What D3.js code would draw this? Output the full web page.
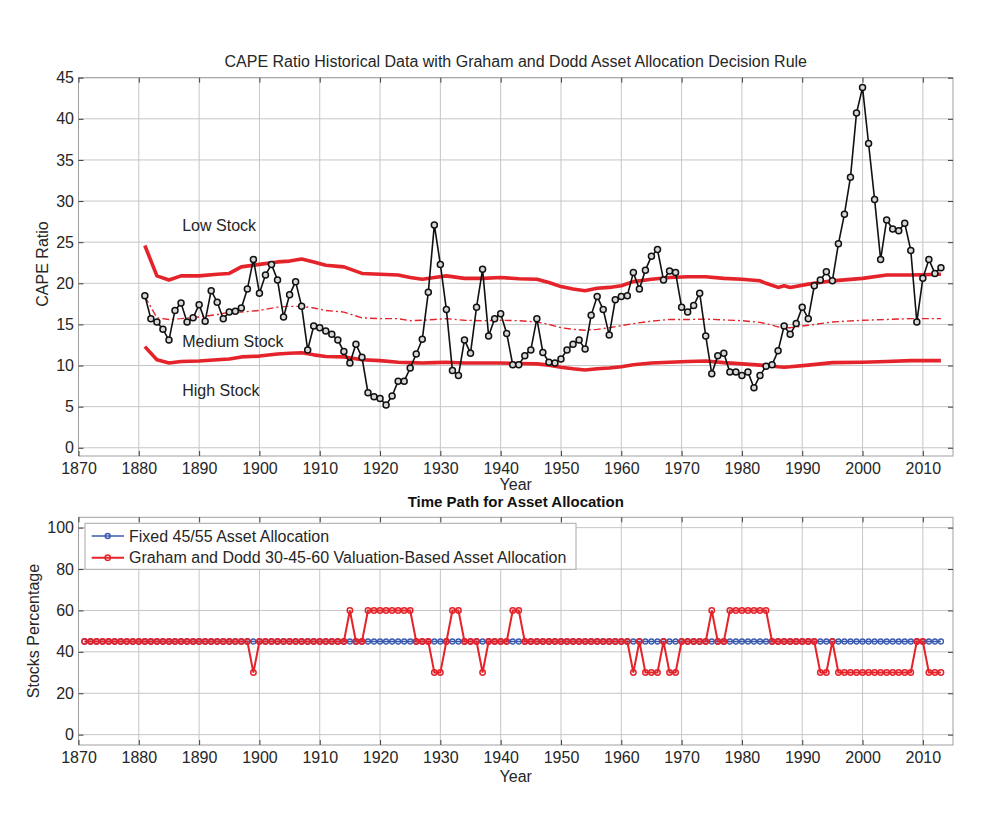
<!DOCTYPE html>
<html>
<head>
<meta charset="utf-8">
<script src="https://cdnjs.cloudflare.com/ajax/libs/d3/7.8.5/d3.min.js"></script>
<style>
  body { margin: 0; background: #fff; }
  svg { font-family: "Liberation Sans", Arial, sans-serif; }
</style>
</head>
<body>
<svg id="chart" width="1000" height="817"></svg>
<script>
// ---- data ----
const capeYears = d3.range(1881, 2014);
const capeValues = [
  18.5, 15.7, 15.3, 14.4, 13.1, 16.7, 17.6, 15.3, 15.8, 17.4,   // 1881-1890
  15.4, 19.1, 17.7, 15.7, 16.5, 16.6, 17.0, 19.3, 22.9, 18.8,   // 1891-1900
  21.0, 22.3, 20.4, 15.9, 18.6, 20.2, 17.2, 11.9, 14.8, 14.6,   // 1901-1910
  14.2, 13.8, 13.1, 11.7, 10.3, 12.6, 11.0, 6.7, 6.2, 6.0,      // 1911-1920
  5.2, 6.3, 8.1, 8.1, 9.7, 11.4, 13.2, 18.9, 27.1, 22.3,        // 1921-1930
  16.8, 9.4, 8.8, 13.1, 11.5, 17.1, 21.7, 13.6, 15.7, 16.3,     // 1931-1940
  13.9, 10.1, 10.1, 11.2, 11.9, 15.7, 11.6, 10.4, 10.3, 10.8,   // 1941-1950
  11.9, 12.6, 13.1, 12.0, 16.1, 18.4, 16.8, 13.7, 18.0, 18.4,   // 1951-1960
  18.5, 21.3, 19.3, 21.6, 23.3, 24.1, 20.4, 21.5, 21.3, 17.1,   // 1961-1970
  16.5, 17.3, 18.8, 13.6, 9.0, 11.2, 11.5, 9.2, 9.2, 8.8,       // 1971-1980
  9.2, 7.3, 8.8, 9.9, 10.1, 11.8, 14.8, 13.8, 15.1, 17.1,       // 1981-1990
  15.7, 19.7, 20.4, 21.4, 20.3, 24.8, 28.4, 32.9, 40.7, 43.8,   // 1991-2000
  37.0, 30.2, 22.9, 27.7, 26.6, 26.4, 27.3, 24.0, 15.3, 20.6,   // 2001-2010
  22.9, 21.2, 21.9                                              // 2011-2013
];

const bandYears = [1881, 1883, 1885, 1887, 1890, 1893, 1895, 1897, 1900, 1903,
  1905, 1907, 1909, 1911, 1914, 1917, 1920, 1923, 1925, 1927,
  1929, 1931, 1934, 1937, 1940, 1943, 1946, 1948, 1950, 1952,
  1954, 1956, 1958, 1960, 1962, 1965, 1968, 1971, 1974, 1977,
  1980, 1983, 1984, 1986, 1987, 1988, 1991, 1995, 2000, 2004,
  2008, 2013];
const upperBand = [24.6, 20.9, 20.4, 20.9, 20.9, 21.1, 21.2, 22.0, 22.3, 22.6,
  22.7, 22.95, 22.6, 22.2, 22.0, 21.2, 21.1, 21.0, 20.7, 20.5,
  20.7, 20.9, 20.6, 20.6, 20.7, 20.55, 20.5, 20.1, 19.6, 19.3,
  19.1, 19.4, 19.5, 19.7, 20.2, 20.5, 20.7, 20.8, 20.8, 20.6,
  20.5, 20.3, 20.0, 19.5, 19.7, 19.5, 19.9, 20.3, 20.6, 21.0,
  21.0, 21.1];
const midBand = [18.4, 15.8, 15.6, 15.7, 15.9, 16.2, 16.5, 16.5, 16.7, 17.1,
  17.2, 17.2, 17.0, 16.7, 16.5, 15.8, 15.7, 15.7, 15.45, 15.5,
  15.6, 15.7, 15.5, 15.45, 15.5, 15.45, 15.3, 15.0, 14.6, 14.4,
  14.3, 14.4, 14.6, 14.85, 15.1, 15.4, 15.6, 15.6, 15.65, 15.55,
  15.45, 15.25, 15.1, 14.7, 14.6, 14.6, 14.9, 15.3, 15.5, 15.6,
  15.7, 15.7];
const lowerBand = [12.3, 10.7, 10.3, 10.5, 10.55, 10.7, 10.8, 11.05, 11.15, 11.4,
  11.5, 11.55, 11.3, 11.1, 11.05, 10.7, 10.6, 10.4, 10.35, 10.3,
  10.35, 10.4, 10.3, 10.3, 10.3, 10.25, 10.2, 10.05, 9.8, 9.6,
  9.45, 9.6, 9.7, 9.85, 10.1, 10.3, 10.4, 10.5, 10.55, 10.35,
  10.2, 10.05, 10.0, 9.85, 9.8, 9.85, 10.05, 10.35, 10.4, 10.5,
  10.6, 10.6];

const allocYears = d3.range(1871, 2014);
const fixedAlloc = [
  45, 45, 45, 45, 45, 45, 45, 45, 45, 45,   // 1871-1880
  45, 45, 45, 45, 45, 45, 45, 45, 45, 45,
  45, 45, 45, 45, 45, 45, 45, 45, 45, 45,
  45, 45, 45, 45, 45, 45, 45, 45, 45, 45,
  45, 45, 45, 45, 45, 45, 45, 45, 45, 45,
  45, 45, 45, 45, 45, 45, 45, 45, 45, 45,
  45, 45, 45, 45, 45, 45, 45, 45, 45, 45,
  45, 45, 45, 45, 45, 45, 45, 45, 45, 45,
  45, 45, 45, 45, 45, 45, 45, 45, 45, 45,
  45, 45, 45, 45, 45, 45, 45, 45, 45, 45,
  45, 45, 45, 45, 45, 45, 45, 45, 45, 45,
  45, 45, 45, 45, 45, 45, 45, 45, 45, 45,
  45, 45, 45, 45, 45, 45, 45, 45, 45, 45,
  45, 45, 45, 45, 45, 45, 45, 45, 45, 45,
  45, 45, 45                                // 2011-2013
];
const gdAlloc = [
  45, 45, 45, 45, 45, 45, 45, 45, 45, 45,   // 1871-1880
  45, 45, 45, 45, 45, 45, 45, 45, 45, 45,   // 1881-1890
  45, 45, 45, 45, 45, 45, 45, 45, 30, 45,   // 1891-1900
  45, 45, 45, 45, 45, 45, 45, 45, 45, 45,   // 1901-1910
  45, 45, 45, 45, 60, 45, 45, 60, 60, 60,   // 1911-1920
  60, 60, 60, 60, 60, 45, 45, 45, 30, 30,   // 1921-1930
  45, 60, 60, 45, 45, 45, 30, 45, 45, 45,   // 1931-1940
  45, 60, 60, 45, 45, 45, 45, 45, 45, 45,   // 1941-1950
  45, 45, 45, 45, 45, 45, 45, 45, 45, 45,   // 1951-1960
  45, 30, 45, 30, 30, 30, 45, 30, 30, 45,   // 1961-1970
  45, 45, 45, 45, 60, 45, 45, 60, 60, 60,   // 1971-1980
  60, 60, 60, 60, 45, 45, 45, 45, 45, 45,   // 1981-1990
  45, 45, 30, 30, 45, 30, 30, 30, 30, 30,   // 1991-2000
  30, 30, 30, 30, 30, 30, 30, 30, 45, 45,   // 2001-2010
  30, 30, 30                                // 2011-2013
];

const xTicks = [1870, 1880, 1890, 1900, 1910, 1920, 1930, 1940, 1950, 1960, 1970, 1980, 1990, 2000, 2010];
const capeTicks = [0, 5, 10, 15, 20, 25, 30, 35, 40, 45];
const allocTicks = [0, 20, 40, 60, 80, 100];

// ---- layout ----
const svg = d3.select("#chart");
const left = 78.5, right = 953;
const red = "#e4232a", blue = "#3a5aae", grid = "#c6c6c6", textCol = "#262626";

const x = d3.scaleLinear().domain([1870, 2015]).range([left, right]);
const yTop = d3.scaleLinear().domain([-1, 45]).range([456, 77.7]);
const yBot = d3.scaleLinear().domain([-5, 105]).range([745, 517.3]);

function frame(yScale, yTicks, labelPad) {
  const [yb, yt] = yScale.range();
  const g = svg.append("g");

  g.append("g").selectAll("line").data(xTicks).join("line")
    .attr("x1", d => x(d)).attr("x2", d => x(d))
    .attr("y1", yb).attr("y2", yt)
    .attr("stroke", grid);
  g.append("g").selectAll("line").data(yTicks).join("line")
    .attr("x1", left).attr("x2", right)
    .attr("y1", d => yScale(d)).attr("y2", d => yScale(d))
    .attr("stroke", grid);

  g.append("rect")
    .attr("x", left).attr("y", yt)
    .attr("width", right - left).attr("height", yb - yt)
    .attr("fill", "none").attr("stroke", "#a0a0a0");

  const bottom = g.append("g").attr("transform", `translate(0,${yb})`)
    .call(d3.axisBottom(x).tickValues(xTicks).tickFormat(d3.format("d")).tickSize(-5).tickPadding(labelPad));
  const top = g.append("g").attr("transform", `translate(0,${yt})`)
    .call(d3.axisTop(x).tickValues(xTicks).tickFormat("").tickSize(-5));
  const leftAx = g.append("g").attr("transform", `translate(${left},0)`)
    .call(d3.axisLeft(yScale).tickValues(yTicks).tickSize(-5).tickPadding(4.5));
  const rightAx = g.append("g").attr("transform", `translate(${right},0)`)
    .call(d3.axisRight(yScale).tickValues(yTicks).tickFormat("").tickSize(-5));

  [bottom, top, leftAx, rightAx].forEach(a => {
    a.select(".domain").remove();
    a.selectAll(".tick line").attr("stroke", "#404040");
    a.selectAll("text")
      .attr("fill", textCol)
      .style("font-size", "16px")
      .style("font-family", "'Liberation Sans', Arial, sans-serif");
  });
}

// ======== top chart ========
frame(yTop, capeTicks, 7);

const bandLine = vals => d3.line()
  .x((d, i) => x(bandYears[i]))
  .y((d, i) => yTop(vals[i]))(vals);

svg.append("path").attr("d", bandLine(upperBand))
  .attr("fill", "none").attr("stroke", red).attr("stroke-width", 3.6)
  .attr("stroke-linejoin", "round");
svg.append("path").attr("d", bandLine(lowerBand))
  .attr("fill", "none").attr("stroke", red).attr("stroke-width", 3.6)
  .attr("stroke-linejoin", "round");
svg.append("path").attr("d", bandLine(midBand))
  .attr("fill", "none").attr("stroke", red).attr("stroke-width", 1.4)
  .attr("stroke-dasharray", "7,3,2,3");

const capeLine = d3.line()
  .x((d, i) => x(capeYears[i]))
  .y(d => yTop(d));

svg.append("path").attr("d", capeLine(capeValues))
  .attr("fill", "none").attr("stroke", "#111").attr("stroke-width", 1.6);

svg.append("g").selectAll("circle").data(capeValues).join("circle")
  .attr("cx", (d, i) => x(capeYears[i]))
  .attr("cy", d => yTop(d))
  .attr("r", 3)
  .attr("fill", "#d8d8d8")
  .attr("stroke", "#111")
  .attr("stroke-width", 1.5);

// zone labels
[["Low Stock", 26.3], ["Medium Stock", 12.2], ["High Stock", 6.25]].forEach(([t, v]) => {
  svg.append("text")
    .attr("x", x(1887.2)).attr("y", yTop(v))
    .attr("fill", textCol)
    .style("font-size", "16px")
    .text(t);
});

svg.append("text")
  .attr("x", (left + right) / 2).attr("y", 67)
  .attr("text-anchor", "middle").attr("fill", textCol)
  .style("font-size", "16px")
  .text("CAPE Ratio Historical Data with Graham and Dodd Asset Allocation Decision Rule");

svg.append("text")
  .attr("x", (left + right) / 2).attr("y", 489.5)
  .attr("text-anchor", "middle").attr("fill", textCol)
  .style("font-size", "16px")
  .text("Year");

svg.append("text")
  .attr("transform", "rotate(-90)")
  .attr("x", -264).attr("y", 48)
  .attr("text-anchor", "middle").attr("fill", textCol)
  .style("font-size", "16px")
  .text("CAPE Ratio");

// ======== bottom chart ========
frame(yBot, allocTicks, 7);

svg.append("text")
  .attr("x", (left + right) / 2).attr("y", 506.5)
  .attr("text-anchor", "middle").attr("fill", "#111")
  .style("font-size", "15px").style("font-weight", "bold")
  .text("Time Path for Asset Allocation");

svg.append("text")
  .attr("x", (left + right) / 2).attr("y", 782)
  .attr("text-anchor", "middle").attr("fill", textCol)
  .style("font-size", "16px")
  .text("Year");

svg.append("text")
  .attr("transform", "rotate(-90)")
  .attr("x", -631).attr("y", 38.5)
  .attr("text-anchor", "middle").attr("fill", textCol)
  .style("font-size", "16px")
  .text("Stocks Percentage");

const allocLine = d3.line()
  .x((d, i) => x(allocYears[i]))
  .y(d => yBot(d));

svg.append("path").attr("d", allocLine(fixedAlloc))
  .attr("fill", "none").attr("stroke", blue).attr("stroke-width", 1.6);
svg.append("g").selectAll("circle").data(fixedAlloc).join("circle")
  .attr("cx", (d, i) => x(allocYears[i])).attr("cy", d => yBot(d))
  .attr("r", 2.5).attr("fill", "none").attr("stroke", blue).attr("stroke-width", 1.3);

svg.append("path").attr("d", allocLine(gdAlloc))
  .attr("fill", "none").attr("stroke", red).attr("stroke-width", 2);
svg.append("g").selectAll("circle").data(gdAlloc).join("circle")
  .attr("cx", (d, i) => x(allocYears[i])).attr("cy", d => yBot(d))
  .attr("r", 2.7).attr("fill", "none").attr("stroke", red).attr("stroke-width", 1.5);

// legend
const legend = svg.append("g").attr("transform", "translate(85,523.3)");
legend.append("rect")
  .attr("width", 491).attr("height", 46)
  .attr("fill", "#fff").attr("stroke", "#a8a8a8");

[["Fixed 45/55 Asset Allocation", blue, 1.6, 2.5], ["Graham and Dodd 30-45-60 Valuation-Based Asset Allocation", red, 2, 2.7]]
  .forEach(([label, col, w, r], i) => {
    const cy = 12.7 + i * 21.7;
    legend.append("line")
      .attr("x1", 6.7).attr("x2", 39).attr("y1", cy).attr("y2", cy)
      .attr("stroke", col).attr("stroke-width", w);
    legend.append("circle")
      .attr("cx", 22.7).attr("cy", cy).attr("r", r)
      .attr("fill", "none").attr("stroke", col).attr("stroke-width", 1.4);
    legend.append("text")
      .attr("x", 44).attr("y", cy).attr("dy", "0.35em")
      .attr("fill", textCol)
      .style("font-size", "16px")
      .text(label);
  });
</script>
</body>
</html>
